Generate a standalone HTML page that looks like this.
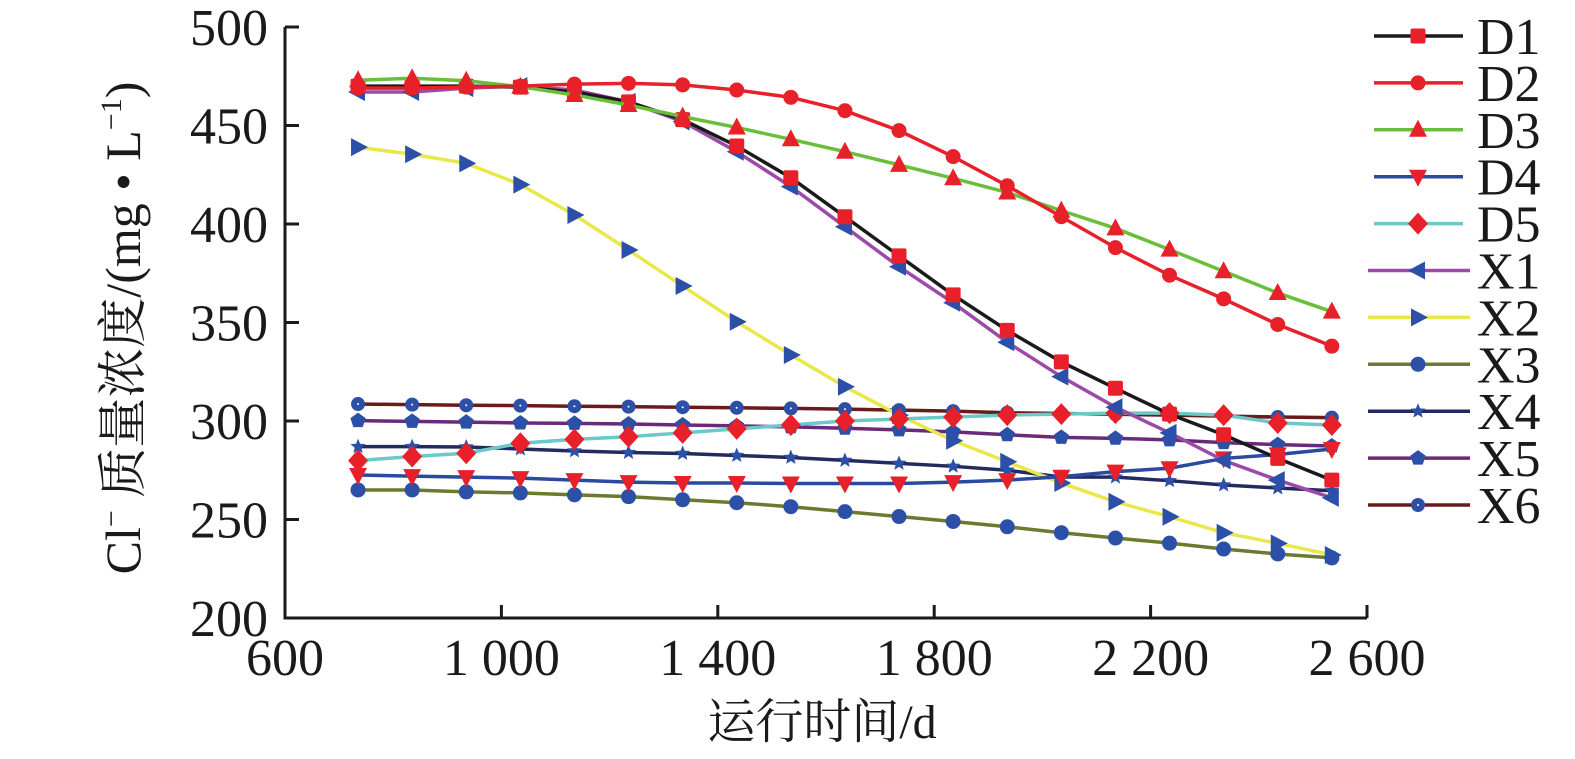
<!DOCTYPE html>
<html><head><meta charset="utf-8"><style>
html,body{margin:0;padding:0;background:#fff;width:1575px;height:759px;overflow:hidden}
svg text{font-family:"Liberation Serif","Noto Serif CJK SC",serif;fill:#1a1a1a}
</style></head><body>
<svg id="chart" width="1575" height="759" viewBox="0 0 1575 759" xmlns="http://www.w3.org/2000/svg">
<g id="axes"></g>
<g id="series"></g>
<g id="legend"></g>
<text x="822" y="738" font-size="48" text-anchor="middle" style="font-family:'Liberation Serif','Noto Serif CJK SC',serif">运行时间/d</text>
<text transform="translate(140,328) rotate(-90)" font-size="50" text-anchor="middle" style="font-family:'Liberation Serif','Noto Serif CJK SC',serif">Cl<tspan font-size="30" dy="-19">−</tspan><tspan dy="19"> 质量浓度/(mg • L</tspan><tspan font-size="30" dy="-19">−1</tspan><tspan dy="19">)</tspan></text>
</svg>
<script>
const days=[735,835,935,1035,1135,1235,1335,1435,1535,1635,1735,1835,1935,2035,2135,2235,2335,2435,2535];
const xTicks=[600,1000,1400,1800,2200,2600];
const xTickLabels=["600","1 000","1 400","1 800","2 200","2 600"];
const yTicks=[200,250,300,350,400,450,500];
const D1=[470,470,470,469.5,467,462,453,439.6,423.5,403.7,383.8,364,346,330,316.6,303.5,293,281,270];
const D2=[469,469,469.5,470,471,471.4,470.6,468,464.3,457.5,447.4,434.2,419.4,403.7,388,374,362,349,338];
const D3=[473,474,472.7,469.7,465.5,460.4,454.5,449,443,436.7,430,423.2,416,406.8,397.8,387,376,365,355.5];
const D4=[272.6,272,271.5,271,270,269,268.5,268.5,268.3,268.3,268.3,269,270,271.7,274.3,276,281,283,285.8];
const D5=[279.9,282,283.6,288.7,290.7,292,294,296,298,300,301,302,303,303.5,304,304,303,299,298];
const X1=[467,467,469,470,468,462,452,436.7,419,398.6,378.3,360,340,322.5,307,294,280,270,261];
const X2=[439,435.4,430.8,420,404.6,386.8,368.5,350.4,333.5,317.4,303,290,279.3,268.5,259,251.4,243.3,237.9,232];
const X3=[265,265,264,263.5,262.5,261.6,260,258.5,256.5,254,251.5,249,246.3,243.3,240.6,238,235,232.5,230.5];
const X4=[287,287,286.8,285.8,284.8,284,283.5,282.5,281.5,280,278.5,277,275,271.6,271.5,269.7,267.5,266,264.6];
const X5=[300.2,299.8,299.4,299,298.8,298.5,298,297.5,297,296.3,295.5,294.5,293,291.7,291.2,290.4,289,288,287.3];
const X6=[308.6,308.3,308,307.8,307.5,307.3,307,306.7,306.4,306,305.5,305,304.2,303.8,303.4,303,302.5,302,301.7];
const seriesNames=["D1","D2","D3","D4","D5","X1","X2","X3","X4","X5","X6"];
const seriesData=[D1,D2,D3,D4,D5,X1,X2,X3,X4,X5,X6];
const lineColors=["#1a1a1a","#e8202a","#6abf3a","#2a4aa0","#6cc9c9","#9b4aa8","#e8e84a","#6b7a2e","#232a5e","#6a2a7a","#6a1a1a"];
const markers=["square","circle","up","down","diamond","left","right","circle","star","pentagon","dotcircle"];
const markerColors=["#e8202a","#e8202a","#e8202a","#e8202a","#e8202a","#2c4fa8","#2c4fa8","#2c4fa8","#2c4fa8","#2c4fa8","#2c4fa8"];

const X0=285,X1p=1367,Y0=618,Y1=27;
const xs=v=>X0+(v-600)/2000*(X1p-X0);
const ys=v=>Y0-(v-200)/300*(Y0-Y1);
const NS="http://www.w3.org/2000/svg";
function mk(tag,attrs,parent){const e=document.createElementNS(NS,tag);for(const k in attrs)e.setAttribute(k,attrs[k]);parent.appendChild(e);return e;}
const axes=document.getElementById('axes');
let a=mk('path',{d:`M${X0},${Y1} V${Y0} H${X1p}`,fill:'none',stroke:'#1a1a1a','stroke-width':3},axes);


yTicks.forEach(t=>{
 const tk=mk('line',{x1:X0,x2:X0+14,y1:ys(t),y2:ys(t),stroke:'#1a1a1a','stroke-width':3},axes);
 
 
 const tx=mk('text',{x:268,y:ys(t)+18,'font-size':52,'text-anchor':'end'},axes);tx.textContent=t;
 
 
});
xTicks.forEach((t,i)=>{
 const tk=mk('line',{x1:xs(t),x2:xs(t),y1:Y0,y2:Y0-13,stroke:'#1a1a1a','stroke-width':3},axes);
 
 
 const tx=mk('text',{x:xs(t),y:Y0+57,'font-size':52,'text-anchor':'middle'},axes);tx.textContent=xTickLabels[i];
 
 
});
function marker(type,x,y,c,p){
 const s=7.5;let e;
 if(type==='square')e=mk('rect',{x:x-s,y:y-s,width:2*s,height:2*s,rx:2,fill:c},p);
 else if(type==='circle')e=mk('circle',{cx:x,cy:y,r:s,fill:c},p);
 else if(type==='dotcircle'){e=mk('g',{},p);mk('circle',{cx:x,cy:y,r:7,fill:c},e);mk('circle',{cx:x,cy:y,r:1,fill:'#fff'},e);}
 else if(type==='up')e=mk('polygon',{points:`${x},${y-10} ${x+9},${y+7} ${x-9},${y+7}`,fill:c},p);
 else if(type==='down')e=mk('polygon',{points:`${x},${y+10} ${x+9},${y-7} ${x-9},${y-7}`,fill:c},p);
 else if(type==='left')e=mk('polygon',{points:`${x-10},${y} ${x+7},${y-9} ${x+7},${y+9}`,fill:c},p);
 else if(type==='right')e=mk('polygon',{points:`${x+10},${y} ${x-7},${y-9} ${x-7},${y+9}`,fill:c},p);
 else if(type==='diamond')e=mk('polygon',{points:`${x},${y-11} ${x+10},${y} ${x},${y+11} ${x-10},${y}`,fill:c},p);
 else if(type==='pentagon'){let pts=[];for(let k=0;k<5;k++){const an=-Math.PI/2+k*2*Math.PI/5;pts.push((x+8*Math.cos(an))+','+(y+8*Math.sin(an)));}e=mk('polygon',{points:pts.join(' '),fill:c},p);}
 else if(type==='star'){let pts=[];for(let k=0;k<10;k++){const an=-Math.PI/2+k*Math.PI/5,r=k%2?3.5:8;pts.push((x+r*Math.cos(an))+','+(y+r*Math.sin(an)));}e=mk('polygon',{points:pts.join(' '),fill:c},p);}
 return e;
}
const sg=document.getElementById('series');
const lg=document.getElementById('legend');
const order=[10,9,8,7,6,4,3,5,0,2,1];
order.forEach(i=>{
 const g=mk('g',{},sg);
 
 
 const pts=seriesData[i].map((v,j)=>xs(days[j])+','+ys(v)).join(' ');
 const pl=mk('polyline',{points:pts,fill:'none',stroke:lineColors[i],'stroke-width':3.5},g);
 
 
 seriesData[i].forEach((v,j)=>{
  const m=marker(markers[i],xs(days[j]),ys(v),markerColors[i],g);
  
  
 });
});
seriesNames.forEach((n,i)=>{
 const y=36+i*46.9;
 const g=mk('g',{},lg);
 
 
 const x1=i<5?1374:1368,x2=i<5?1463:1470;
 mk('line',{x1:x1,x2:x2,y1:y,y2:y,stroke:lineColors[i],'stroke-width':3.5},g);
 marker(markers[i],1418,y,markerColors[i],g);
 const t=mk('text',{x:1477,y:y+18,'font-size':52},g);t.textContent=n;
});
</script>
</body></html>
